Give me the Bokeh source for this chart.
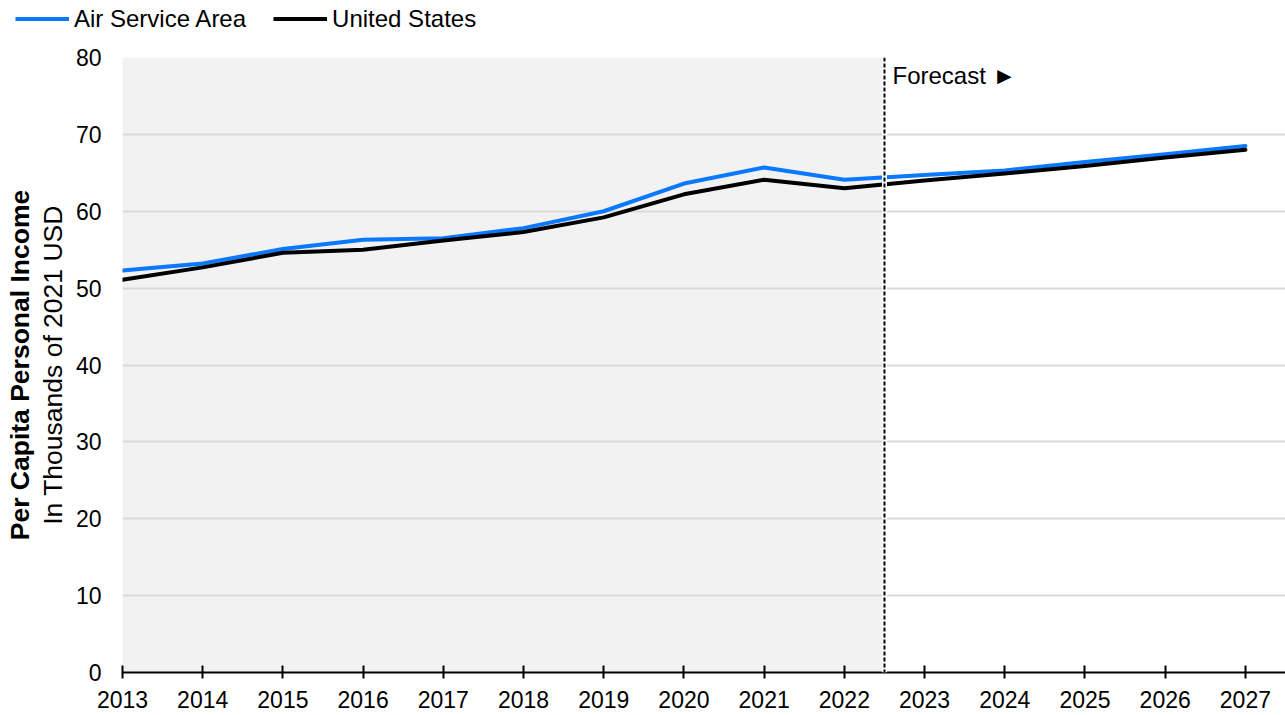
from bokeh.plotting import figure
from bokeh.layouts import column
from bokeh.models import (Range1d, FixedTicker, BoxAnnotation, Span, Label,
                          Legend, LegendItem, Title)
from bokeh.embed import file_html
from bokeh.resources import INLINE

# ---- data ----
years = [2013, 2014, 2015, 2016, 2017, 2018, 2019, 2020, 2021, 2022,
         2023, 2024, 2025, 2026, 2027]
air_service_area = [52.3, 53.2, 55.1, 56.3, 56.5, 57.8, 60.0, 63.6, 65.7, 64.1,
                    64.7, 65.3, 66.4, 67.4, 68.5]
united_states = [51.1, 52.7, 54.6, 55.0, 56.2, 57.3, 59.2, 62.2, 64.1, 63.0,
                 64.0, 64.9, 65.9, 67.0, 68.0]
y_ticks = [0, 10, 20, 30, 40, 50, 60, 70, 80]
forecast_start = 2022.5
series_names = ["Air Service Area", "United States"]

FONT = "Liberation Sans"
BLUE = "#0A78FF"
LEGEND_H = 37

# ---------------- legend strip ----------------
pl = figure(width=1285, height=LEGEND_H, output_backend="svg", toolbar_location=None,
            x_range=Range1d(0, 1), y_range=Range1d(0, 1),
            x_axis_location=None, y_axis_location=None,
            min_border_left=0, min_border_right=0, min_border_top=0,
            min_border_bottom=0)
pl.frame_align = False
pl.outline_line_color = None
pl.xgrid.visible = False
pl.ygrid.visible = False
lr1 = pl.line(years, air_service_area, line_color=BLUE, line_width=4)
lr2 = pl.line(years, united_states, line_color="black", line_width=4)
legend = Legend(items=[LegendItem(label=series_names[0], renderers=[lr1]),
                       LegendItem(label=series_names[1], renderers=[lr2])],
                orientation="horizontal", location=(15, 0),
                glyph_width=54, glyph_height=LEGEND_H, label_height=LEGEND_H,
                label_standoff=5, spacing=27, padding=0, margin=0,
                border_line_color=None, background_fill_alpha=0,
                label_text_font=FONT, label_text_font_size="24px",
                label_text_color="black")
pl.add_layout(legend, "center")

# ---------------- main chart ----------------
p = figure(width=1285, height=715 - LEGEND_H, output_backend="svg",
           toolbar_location=None,
           x_range=Range1d(2013, 2027.5), y_range=Range1d(0, 80),
           min_border_left=122, min_border_right=0, min_border_top=57 - LEGEND_H,
           min_border_bottom=43)
p.frame_align = False
p.outline_line_color = None
p.background_fill_color = "white"
p.border_fill_color = "white"

# history shading
p.add_layout(BoxAnnotation(left=years[0], right=forecast_start, bottom=0, top=80,
                           fill_color="#f2f2f2", fill_alpha=1.0, line_color=None,
                           level="image"))

# grid
p.xgrid.grid_line_color = None
p.ygrid.grid_line_color = "#d9d9d9"
p.ygrid.grid_line_width = 2
p.ygrid.ticker = FixedTicker(ticks=y_ticks)

# axes
xa = p.xaxis[0]
xa.ticker = FixedTicker(ticks=years)
xa.axis_line_color = "black"
xa.axis_line_width = 2
xa.major_tick_line_color = "black"
xa.major_tick_line_width = 2
xa.major_tick_in = 7
xa.major_tick_out = 6
xa.minor_tick_line_color = None
xa.major_label_text_font = FONT
xa.major_label_text_font_size = "23px"
xa.major_label_text_color = "black"
xa.major_label_standoff = 12

ya = p.yaxis[0]
ya.ticker = FixedTicker(ticks=y_ticks)
ya.axis_line_color = None
ya.major_tick_line_color = None
ya.minor_tick_line_color = None
ya.major_tick_in = 0
ya.major_tick_out = 0
ya.major_label_text_font = FONT
ya.major_label_text_font_size = "23px"
ya.major_label_text_color = "black"
ya.major_label_standoff = 21
ya.axis_label = "In Thousands of 2021 USD"
ya.axis_label_text_font = FONT
ya.axis_label_text_font_size = "26.5px"
ya.axis_label_text_font_style = "normal"
ya.axis_label_text_color = "black"
ya.axis_label_standoff = 5

p.add_layout(Title(text="Per Capita Personal Income", align="center",
                   text_font=FONT, text_font_size="26.5px", text_font_style="bold",
                   text_color="black", standoff=0), "left")

# lines
r1 = p.line(years, air_service_area, line_color=BLUE, line_width=4,
            line_join="round", line_cap="round")
r2 = p.line(years, united_states, line_color="black", line_width=4,
            line_join="round", line_cap="round")

# forecast divider (white halo, then dashed line)
p.add_layout(Span(location=forecast_start, dimension="height", line_color="white",
                  line_width=5))
p.add_layout(Span(location=forecast_start, dimension="height", line_color="black",
                  line_width=2, line_dash="4 2"))
p.add_layout(Label(x=forecast_start, y=80, x_offset=8, y_offset=-18,
                   text="Forecast \u25BA", text_font=FONT, text_font_size="24px",
                   text_baseline="alphabetic", text_align="left", text_color="black"))

layout = column(pl, p, spacing=0)
open("out.html", "w").write(file_html(layout, INLINE))
